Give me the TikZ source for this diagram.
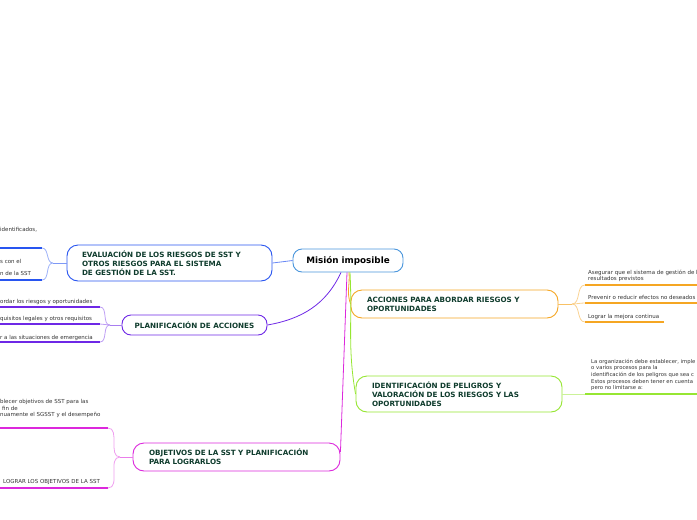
\documentclass[tikz,border=0pt]{standalone}
\usepackage{fontspec}
\setmainfont{DejaVu Sans}
\usetikzlibrary{positioning,calc}

\definecolor{rootc}{RGB}{74,150,220}
\definecolor{evalc}{RGB}{40,85,240}
\definecolor{planc}{RGB}{110,40,230}
\definecolor{objc}{RGB}{220,40,220}
\definecolor{accc}{RGB}{245,166,35}
\definecolor{idc}{RGB}{150,230,50}
\definecolor{titlec}{RGB}{15,60,45}
\definecolor{leafc}{RGB}{51,51,51}

\begin{document}
\begin{tikzpicture}[x=1pt,y=-1pt,
    topic/.style={rectangle,rounded corners=11pt,draw,line width=0.9pt,fill=white,text=titlec,font=\fontsize{7.2}{9}\selectfont\bfseries,align=left},
    leaf/.style={font=\fontsize{5.5}{6.6}\selectfont,text=leafc,inner sep=0pt,align=left,anchor=base west},
    link/.style={line width=0.8pt},
    bar/.style={line width=1.4pt}]

\useasboundingbox (0,0) rectangle (697,520);

% Root and topics
\node[draw=rootc,rounded corners=9pt,line width=0.9pt,fill=white,minimum width=110pt,minimum height=23pt,font=\fontsize{8.8}{10}\selectfont\bfseries] (root) at (348,260.5) {Misión imposible};

\node[topic,draw=evalc,text width=175pt,inner xsep=15pt,minimum height=36pt] (eval) at (169.5,263) {EVALUACIÓN DE LOS RIESGOS DE SST Y\\OTROS RIESGOS PARA EL SISTEMA\\DE GESTIÓN DE LA SST.};
\node[topic,draw=planc,rounded corners=9pt,minimum width=145pt,minimum height=20pt,align=center] (plan) at (194.5,325) {PLANIFICACIÓN DE ACCIONES};
\node[topic,draw=objc,text width=175pt,inner xsep=16pt,minimum height=28pt] (obj) at (236.5,457) {OBJETIVOS DE LA SST Y PLANIFICACIÓN\\PARA LOGRARLOS};
\node[topic,draw=accc,text width=175pt,inner xsep=16pt,minimum height=28pt] (acc) at (454.5,304) {ACCIONES PARA ABORDAR RIESGOS Y\\OPORTUNIDADES};
\node[topic,draw=idc,text width=174pt,inner xsep=16pt,minimum height=36pt] (ident) at (459,394) {IDENTIFICACIÓN DE PELIGROS Y\\VALORACIÓN DE LOS RIESGOS Y LAS\\OPORTUNIDADES};

% Root connectors
\draw[link,draw=evalc!70] (root.west) -- (eval.east);
\draw[link,draw=planc] ([xshift=-7pt]root.south) to[out=-115,in=10] (plan.east);
\draw[link,draw=objc] ([xshift=-1pt]root.south) -- ([yshift=5pt]obj.east);
\draw[link,draw=accc] ([xshift=1pt]root.south) to[out=-85,in=110] (acc.west);
\draw[link,draw=idc] ([xshift=2pt]root.south) to[out=-87,in=100] (ident.west);

% Evaluacion branches
\coordinate (evhub) at (53,263);
\draw[link,draw=evalc!60] (eval.west) -- (evhub);
\foreach \n/\y in {1/248,2/280} {
    \coordinate (ev\n) at (42,\y);
    \coordinate (evw\n) at (0,\y);
    \draw[link,draw=evalc!45] (evhub) to[out=180,in=0] (ev\n);
    \draw[bar,draw=evalc] (ev\n) -- (evw\n);
}
\node[leaf] (ev1t) at (0,231) {identificados,};
\node[leaf,anchor=south west] (ev2t) at (0,276) {s con el\\[5.4pt]n de la SST};

% Planificacion branches
\coordinate (plhub) at (110,325);
\draw[link,draw=planc!60] (plan.west) -- (plhub);
\foreach \n/\y in {1/307,2/324,3/342} {
    \coordinate (pl\n) at (100,\y);
    \coordinate (plw\n) at (0,\y);
    \draw[link,draw=planc!45] (plhub) to[out=180,in=0] (pl\n);
    \draw[bar,draw=planc] (pl\n) -- (plw\n);
}
\node[leaf] (pl1t) at (0,303) {ordar los riesgos y oportunidades};
\node[leaf] (pl2t) at (0,320) {quisitos legales y otros requisitos};
\node[leaf] (pl3t) at (0,339) {r a las situaciones de emergencia};

% Objetivos branches
\coordinate (obhub) at (120,457);
\draw[link,draw=objc!60] (obj.west) -- (obhub);
\foreach \n/\y in {1/428,2/488} {
    \coordinate (ob\n) at (108,\y);
    \coordinate (obw\n) at (0,\y);
    \draw[link,draw=objc!45] (obhub) to[out=180,in=0] (ob\n);
    \draw[bar,draw=objc] (ob\n) -- (obw\n);
}
\node[leaf,anchor=south west] (ob1t) at (0,418) {blecer objetivos de SST para las\\\hspace{2pt}fin de\\nuamente el SGSST y el desempeño};
\node[leaf] (ob2t) at (3,483) {LOGRAR LOS OBJETIVOS DE LA SST};

% Acciones branches
\coordinate (achub) at (572,304);
\draw[link,draw=accc!70] (acc.east) -- (achub);
\foreach \n/\y/\e in {1/285/697,2/303/697,3/322/664} {
    \coordinate (ac\n) at (585,\y);
    \coordinate (ace\n) at (\e,\y);
    \draw[link,draw=accc!50] (achub) to[out=0,in=180] (ac\n);
    \draw[bar,draw=accc] (ac\n) -- (ace\n);
}
\node[leaf,anchor=south west] (ac1t) at (588,282) {Asegurar que el sistema de gestión de l\\resultados previstos};
\node[leaf] (ac2t) at (588,299) {Prevenir o reducir efectos no deseados};
\node[leaf] (ac3t) at (588,318) {Lograr la mejora continua};

% Identificacion branch
\coordinate (idhub) at (585,394);
\coordinate (ide) at (697,394);
\draw[link,draw=idc!50] (ident.east) -- (idhub);
\draw[bar,draw=idc] (idhub) -- (ide);
\node[leaf,anchor=south west,font=\fontsize{5.3}{6.6}\selectfont] (id1t) at (591,391) {La organización debe establecer, imple\\o varios procesos para la\\identificación de los peligros que sea c\\Estos procesos deben tener en cuenta\\pero no limitarse a:};

\end{tikzpicture}
\end{document}
